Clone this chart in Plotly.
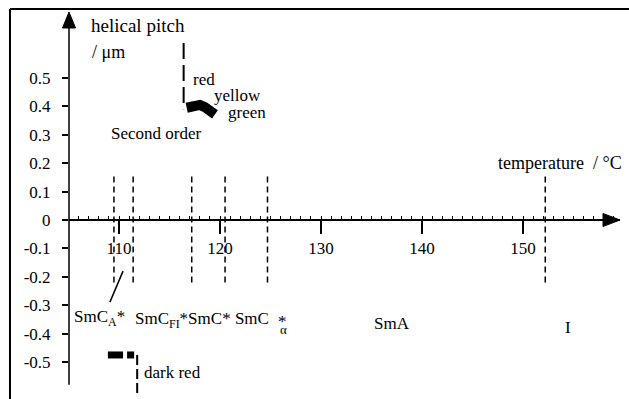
import plotly.graph_objects as go

# ---------------- data ----------------
# phase transition temperatures (dashed vertical lines)
transition_T = [109.5, 111.4, 117.2, 120.5, 124.7, 152.2]
transition_top = [0.155, 0.155, 0.155, 0.155, 0.155, 0.165]
transition_bottom = [-0.22, -0.22, -0.22, -0.22, -0.22, -0.22]

# helical pitch, upper branch (red -> yellow -> green)
red_T = [116.4, 116.4]
red_pitch = [0.623, 0.39]
blob_T = [116.7, 117.0, 117.5, 118.0, 118.5, 119.0, 119.5]
blob_pitch = [0.395, 0.398, 0.405, 0.405, 0.397, 0.383, 0.372]

# helical pitch, lower branch (dark red)
dark_T = [108.9, 110.4, None, 110.8, 111.5]
dark_pitch = [-0.475, -0.475, None, -0.475, -0.475]
dark_line_T = [111.8, 111.8]
dark_line_pitch = [-0.475, -0.615]

# pointer to SmCA* phase
pointer_T = [109.1, 110.4]
pointer_pitch = [-0.289, -0.18]

x_ticks = [110, 120, 130, 140, 150]
y_ticks = [0.5, 0.4, 0.3, 0.2, 0.1, 0, -0.1, -0.2, -0.3, -0.4, -0.5]
y_ticktext = ["0.5", "0.4", "0.3", "0.2", "0.1", "0", "-0.1", "-0.2", "-0.3", "-0.4", "-0.5"]

# ---------------- figure ----------------
FONT = "Times New Roman, Liberation Serif, serif"
x_range = [105.05, 159.6]
y_range = [-0.630, 0.732]

fig = go.Figure()

for t, top, bot in zip(transition_T, transition_top, transition_bottom):
    fig.add_trace(go.Scatter(x=[t, t], y=[bot, top], mode="lines",
                             line=dict(color="black", width=1.5, dash="6px,4px"),
                             showlegend=False, hoverinfo="skip"))

fig.add_trace(go.Scatter(x=red_T, y=red_pitch, mode="lines",
                         line=dict(color="black", width=2, dash="16px,6px"),
                         showlegend=False))
fig.add_trace(go.Scatter(x=blob_T, y=blob_pitch, mode="lines",
                         line=dict(color="black", width=10),
                         showlegend=False))
fig.add_trace(go.Scatter(x=dark_T, y=dark_pitch, mode="lines",
                         line=dict(color="black", width=7),
                         showlegend=False))
fig.add_trace(go.Scatter(x=dark_line_T, y=dark_line_pitch, mode="lines",
                         line=dict(color="black", width=2, dash="10px,4px"),
                         showlegend=False))
fig.add_trace(go.Scatter(x=pointer_T, y=pointer_pitch, mode="lines",
                         line=dict(color="black", width=1.5),
                         showlegend=False))

x_pos = (0 - y_range[0]) / (y_range[1] - y_range[0])

fig.update_layout(
    width=629, height=399,
    margin=dict(l=69, r=9, t=12, b=0),
    paper_bgcolor="white", plot_bgcolor="white",
    font=dict(family=FONT, size=16, color="black"),
    xaxis=dict(range=x_range, anchor="free", position=x_pos,
               showgrid=False, zeroline=False,
               showline=True, linecolor="black", linewidth=1.5,
               tickmode="linear", tick0=110, dtick=10,
               ticks="outside", ticklen=13, tickwidth=2, tickcolor="black",
               minor=dict(dtick=1, tick0=0, ticks="inside", ticklen=3,
                          tickwidth=1, tickcolor="black"),
               tickfont=dict(family=FONT, size=17, color="black")),
    yaxis=dict(range=y_range, showgrid=False, zeroline=False,
               showline=False,
               tickmode="array", tickvals=y_ticks, ticktext=y_ticktext,
               ticks="outside", ticklen=6, tickwidth=1.5, tickcolor="black",
               ticklabelstandoff=8,
               tickfont=dict(family=FONT, size=17, color="black")),
)

shapes = [
    # y axis line
    dict(type="line", xref="paper", yref="y", x0=0, x1=0, y0=-0.58, y1=0.70,
         line=dict(color="black", width=1.5)),
    # y axis arrow head
    dict(type="path", xref="paper", yref="paper", xsizemode="pixel", ysizemode="pixel",
         xanchor=0, yanchor=1, path="M -6.5,-16 L 0,0 L 6.5,-16 Z",
         fillcolor="black", line=dict(color="black", width=1)),
    # x axis arrow head
    dict(type="path", xref="paper", yref="y", xsizemode="pixel", ysizemode="pixel",
         xanchor=1, yanchor=0, path="M -17,-6.5 L 0,0 L -17,6.5 Z",
         fillcolor="black", line=dict(color="black", width=1)),
    # frame: left and top borders
    dict(type="line", xref="paper", yref="paper", x0=-0.1071, x1=-0.1071, y0=-0.05, y1=1.0078,
         line=dict(color="black", width=2)),
    dict(type="line", xref="paper", yref="paper", x0=-0.1071, x1=1.03, y0=1.0078, y1=1.0078,
         line=dict(color="black", width=2)),
]
fig.update_layout(shapes=shapes)

def label(text, x, y, size=16, xanchor="left"):
    fig.add_annotation(x=x, y=y, xref="x", yref="y", text=text, showarrow=False,
                       xanchor=xanchor, yanchor="middle",
                       font=dict(family=FONT, size=size, color="black"))

label("helical pitch", 107.05, 0.683, 19)
label("/ μm", 107.1, 0.592, 18)
label("red", 117.1, 0.493, 17)
label("yellow", 119.2, 0.437, 17)
label("green", 120.6, 0.377, 17)
label("Second order", 109.05, 0.303, 17)
label("temperature  / °C", 147.35, 0.201, 18)
label("SmC<sub>A</sub>*", 105.3, -0.345, 17)
label("SmC<sub>FI</sub>*SmC* SmC", 111.35, -0.352, 17)
label("*", 126.2, -0.358, 17, "center")
label("α", 126.3, -0.387, 13, "center")
label("SmA", 137.0, -0.363, 17, "center")
label("I", 154.46, -0.377, 17, "center")
label("dark red", 112.3, -0.535, 17)

fig.write_html("out.html")
